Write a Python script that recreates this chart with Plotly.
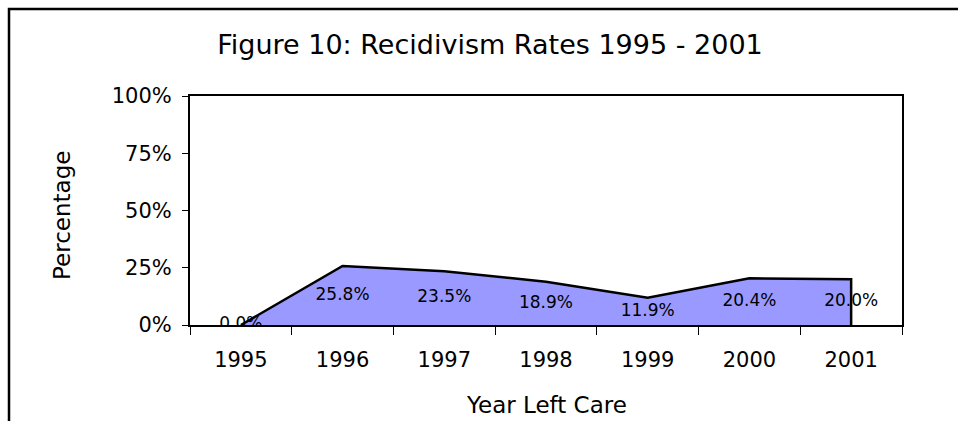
import plotly.graph_objects as go

years = ["1995", "1996", "1997", "1998", "1999", "2000", "2001"]
rates = [0.0, 25.8, 23.5, 18.9, 11.9, 20.4, 20.0]
labels = [f"{v:.1f}%" for v in rates]
y_ticks = [0, 25, 50, 75, 100]
y_ticktext = [f"{t}%" for t in y_ticks]

FONT = "DejaVu Sans"
W, H = 958, 421
L, R, T, B = 190, W - 902, 96, H - 325
PW, PH = 902 - 190, 325 - 96


def px(xs):
    return (xs - 190) / PW


def py(ys):
    return (325 - ys) / PH


fig = go.Figure()
fig.add_trace(go.Scatter(
    x=years + [years[-1]], y=rates + [0],
    mode="lines", fill="tozeroy", fillcolor="#9999FF",
    line=dict(color="black", width=2.5), hoverinfo="skip", showlegend=False))
fig.add_trace(go.Scatter(
    x=years, y=[v / 2 for v in rates], mode="text", text=labels,
    textposition="middle center", textfont=dict(family=FONT, size=17, color="black"),
    showlegend=False, hoverinfo="skip"))

fig.update_layout(
    width=W, height=H,
    margin=dict(l=L, r=R, t=T, b=B),
    paper_bgcolor="white", plot_bgcolor="white",
    font=dict(family=FONT, color="black"),
    title=dict(text="Figure 10: Recidivism Rates 1995 - 2001", x=px(490), xanchor="center",
               xref="paper", y=1 - 45 / H, yanchor="middle",
               font=dict(family=FONT, size=27, color="black")),
    xaxis=dict(type="category", categoryorder="array", categoryarray=years,
               range=[-0.5, 6.5], tickson="boundaries", ticks="outside", ticklen=8,
               tickwidth=1, tickcolor="black", showline=True, linecolor="black",
               linewidth=2, mirror=True, showgrid=False, zeroline=False,
               ticklabelstandoff=15,
               tickfont=dict(family=FONT, size=21, color="black")),
    yaxis=dict(range=[0, 100], tickvals=y_ticks, ticktext=y_ticktext, ticks="outside",
               ticklen=6, tickwidth=1, tickcolor="black", showline=True,
               linecolor="black", linewidth=2, mirror=True, showgrid=False,
               zeroline=False, ticklabelstandoff=6,
               tickfont=dict(family=FONT, size=21, color="black")),
    annotations=[
        dict(text="Percentage", x=px(62), y=py(216), xref="paper", yref="paper",
             textangle=-90, showarrow=False, xanchor="center", yanchor="middle",
             font=dict(family=FONT, size=23, color="black")),
        dict(text="Year Left Care", x=px(546), y=py(405), xref="paper", yref="paper",
             showarrow=False, xanchor="center", yanchor="middle",
             font=dict(family=FONT, size=23, color="black")),
    ],
    shapes=[
        dict(type="rect", xref="paper", yref="paper",
             x0=px(9), x1=px(990), y0=py(470), y1=py(9),
             line=dict(color="black", width=2.5), layer="below"),
    ],
)

fig.write_html(
    "out.html",
    config={"displayModeBar": False},
    post_script="document.body.style.margin='0';document.body.style.overflow='hidden';",
)
